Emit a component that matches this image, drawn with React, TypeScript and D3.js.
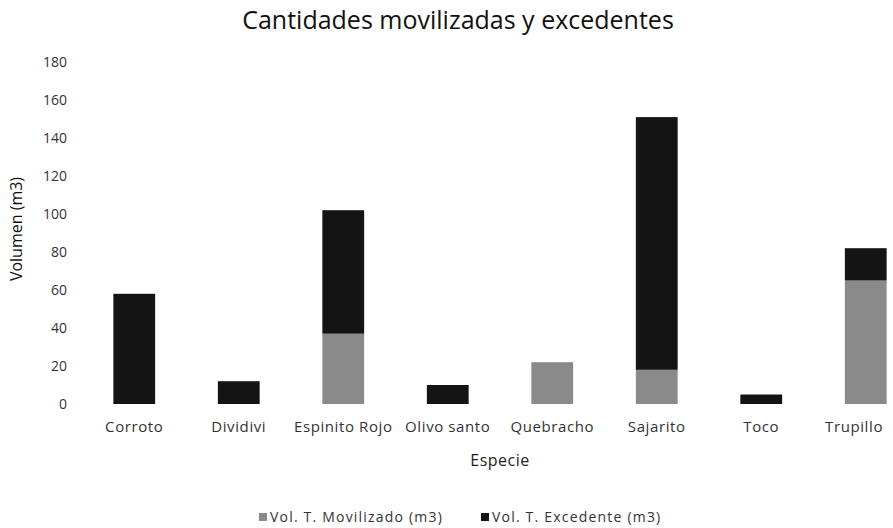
import React, { useRef, useEffect } from 'react';
import * as d3 from 'd3';

const especies = ['Corroto', 'Dividivi', 'Espinito Rojo', 'Olivo santo', 'Quebracho', 'Sajarito', 'Toco', 'Trupillo'];
const movilizado = [0, 0, 37, 0, 22, 18, 0, 65];
const excedente = [58, 12, 65, 10, 0, 133, 5, 17];
const yTicks = [0, 20, 40, 60, 80, 100, 120, 140, 160, 180];
const seriesNames = ['Vol. T. Movilizado (m3)', 'Vol. T. Excedente (m3)'];
const seriesColors = ['#8a8a8a', '#141414'];

const W = 893;
const H = 528;

const App = () => {
  const ref = useRef<SVGSVGElement | null>(null);

  useEffect(() => {
    if (!ref.current) return;
    const svg = d3.select(ref.current);
    svg.selectAll('*').remove();
    const font = '"Open Sans", sans-serif';

    const rows = especies.map((e, i) => ({ especie: e, mov: movilizado[i], exc: excedente[i] }));
    const stack = d3.stack<any>().keys(['mov', 'exc'])(rows);

    const x = d3.scaleBand().domain(especies).range([82, 918]).paddingInner(0.6).paddingOuter(0.3);
    const y = d3.scaleLinear().domain([0, 180]).range([404, 62]);

    // title
    svg.append('text')
      .attr('x', 458).attr('y', 29)
      .attr('text-anchor', 'middle')
      .attr('font-family', font).attr('font-size', 25).attr('fill', '#111')
      .text('Cantidades movilizadas y excedentes');

    // y axis
    const yAxis = svg.append('g')
      .attr('transform', 'translate(70,0)')
      .call(d3.axisLeft(y).tickValues(yTicks).tickSize(0).tickPadding(3));
    yAxis.select('.domain').remove();
    yAxis.selectAll('text').attr('font-family', font).attr('font-size', 14).attr('fill', '#333');

    // bars
    svg.append('g').selectAll('g')
      .data(stack)
      .join('g')
      .attr('fill', (_, i) => seriesColors[i])
      .selectAll('rect')
      .data((d) => d)
      .join('rect')
      .attr('x', (d: any) => x(d.data.especie) ?? 0)
      .attr('y', (d) => y(d[1]))
      .attr('height', (d) => y(d[0]) - y(d[1]))
      .attr('width', x.bandwidth());

    // x axis
    const xAxis = svg.append('g')
      .attr('transform', 'translate(0,404)')
      .call(d3.axisBottom(x).tickSize(0).tickPadding(17));
    xAxis.select('.domain').remove();
    xAxis.selectAll<SVGTextElement, string>('text')
      .attr('font-family', font).attr('font-size', 15).attr('letter-spacing', 0.6).attr('fill', '#333')
      .each(function (d) {
        // keep the last label inside the picture, like the cropped original
        const half = this.getComputedTextLength() / 2;
        const cx = (x(d) ?? 0) + x.bandwidth() / 2;
        const over = cx + half - (W - 10);
        if (over > 0) d3.select(this).attr('dx', -over);
      });

    // axis titles
    svg.append('text')
      .attr('transform', 'translate(22,229) rotate(-90)')
      .attr('text-anchor', 'middle')
      .attr('font-family', font).attr('font-size', 16).attr('fill', '#111')
      .text('Volumen (m3)');
    svg.append('text')
      .attr('x', 500).attr('y', 466)
      .attr('text-anchor', 'middle')
      .attr('font-family', font).attr('font-size', 16).attr('letter-spacing', 0.5).attr('fill', '#222')
      .text('Especie');

    // legend
    const legendX = [259, 481];
    const legend = svg.append('g').selectAll('g')
      .data(seriesNames)
      .join('g')
      .attr('transform', (_, i) => `translate(${legendX[i]},517)`);
    legend.append('rect')
      .attr('x', 0).attr('y', -4).attr('width', 8).attr('height', 8)
      .attr('fill', (_, i) => seriesColors[i]);
    legend.append('text')
      .attr('x', 11).attr('y', 5)
      .attr('font-family', font).attr('font-size', 14).attr('letter-spacing', 1.2).attr('fill', '#333')
      .text((d) => d);
  }, []);

  return (
    <svg ref={ref} width={W} height={H} style={{ position: 'absolute', left: 0, top: 0, background: '#fff' }} />
  );
};

export default App;
